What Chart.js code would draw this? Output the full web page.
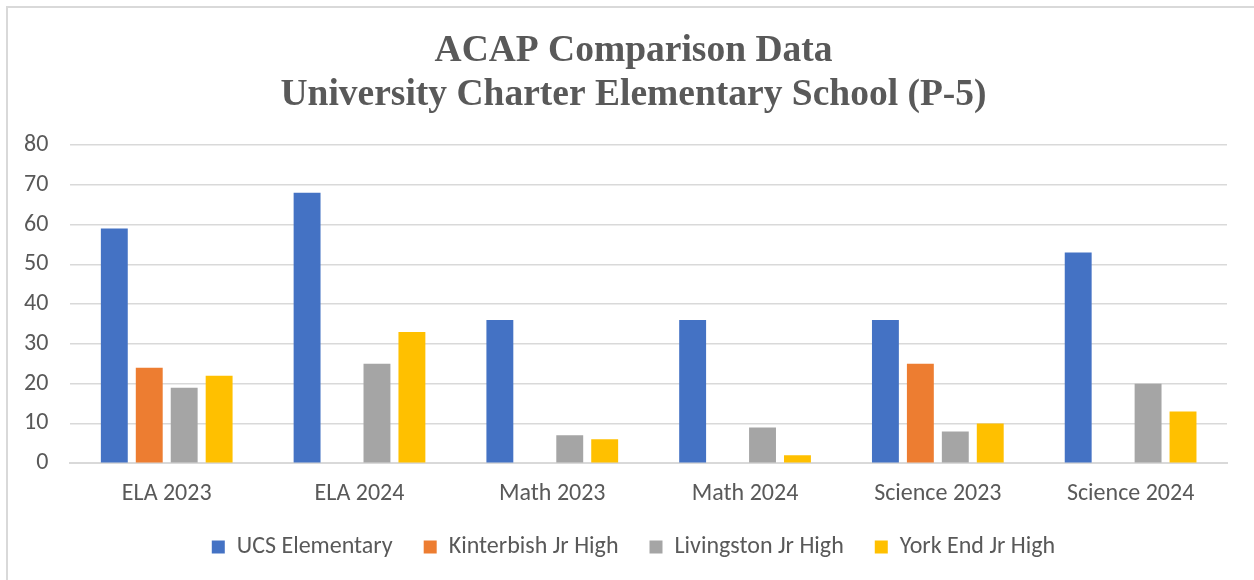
<!DOCTYPE html>
<html>
<head>
<meta charset="utf-8">
<script src="https://cdn.jsdelivr.net/npm/chart.js@4"></script>
<style>
  html, body { margin: 0; padding: 0; background: #fff; overflow: hidden; }
  #frame { position: absolute; left: 6px; top: 6px; width: 1300px; height: 620px;
           border-left: 2px solid #d9d9d9; border-top: 2px solid #d9d9d9; }
  #wrap { position: absolute; left: 0; top: 0; width: 1254px; height: 580px; }
</style>
</head>
<body>
<div id="frame"></div>
<div id="wrap"><canvas id="acapChart"></canvas></div>
<script>
// categorias y valores
const categories = ['ELA 2023', 'ELA 2024', 'Math 2023', 'Math 2024', 'Science 2023', 'Science 2024'];
const ucsElementary = [59, 68, 36, 36, 36, 53];
const kinterbishJrHigh = [24, null, null, null, 25, null];
const livingstonJrHigh = [19, 25, 7, 9, 8, 20];
const yorkEndJrHigh = [22, 33, 6, 2, 10, 13];
const titleLines = ['ACAP Comparison Data', 'University Charter Elementary School (P-5)'];

const sansFont = 'Calibri, Carlito, "Open Sans", sans-serif';
const textColor = '#595959';

// titulo y leyenda centrados en todo el recuadro, no solo en el area del grafico
const centerOnFrame = {
    id: 'centerOnFrame',
    afterLayout(chart) {
        for (const box of [chart.titleBlock, chart.legend]) {
            if (!box) continue;
            box.left += 19;
            box.right += 19;
        }
    }
};

const data = {
    labels: categories,
    datasets: [
        { label: 'UCS Elementary', data: ucsElementary, backgroundColor: '#4472c4' },
        { label: 'Kinterbish Jr High', data: kinterbishJrHigh, backgroundColor: '#ed7d31' },
        { label: 'Livingston Jr High', data: livingstonJrHigh, backgroundColor: '#a5a5a5' },
        { label: 'York End Jr High', data: yorkEndJrHigh, backgroundColor: '#ffc000' }
    ]
};

const config = {
    type: 'bar',
    data: data,
    plugins: [centerOnFrame],
    options: {
        responsive: true,
        maintainAspectRatio: false,
        animation: false,
        datasets: { bar: { categoryPercentage: 0.725, barPercentage: 0.77 } },
        layout: { padding: { top: 20, right: 27, bottom: 11, left: 2 } },
        plugins: {
            title: {
                display: true,
                text: titleLines,
                color: textColor,
                font: { family: '"Liberation Serif", "Times New Roman", serif', size: 37.5, weight: 'bold', lineHeight: 1.175 },
                padding: { top: 9, bottom: 28 }
            },
            legend: {
                position: 'bottom',
                labels: {
                    color: textColor,
                    font: { family: sansFont, size: 24 },
                    boxWidth: 13,
                    boxHeight: 13,
                    padding: 31
                }
            },
            tooltip: { enabled: false }
        },
        scales: {
            x: {
                grid: { display: false },
                border: { display: true, color: '#d9d9d9', width: 2 },
                ticks: { color: textColor, font: { family: sansFont, size: 24 }, padding: 8 },
                // la leyenda queda pegada a las etiquetas como en Excel
                afterFit: (scale) => { scale.height -= 12; }
            },
            y: {
                min: 0,
                max: 80,
                ticks: { stepSize: 10, color: textColor, font: { family: sansFont, size: 24 }, padding: 22 },
                grid: { color: '#d9d9d9', lineWidth: 1.5, drawTicks: false },
                border: { display: false }
            }
        }
    }
};

const ctx = document.getElementById('acapChart').getContext('2d');
const acapChart = new Chart(ctx, config);
</script>
</body>
</html>
